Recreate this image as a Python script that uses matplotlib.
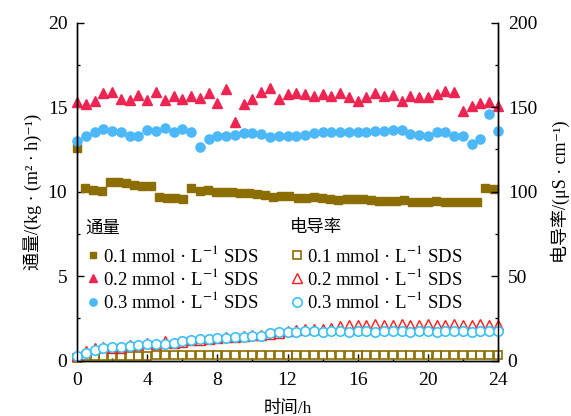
import numpy as np
import matplotlib
matplotlib.use('Agg')
import matplotlib.pyplot as plt
from matplotlib.ticker import MultipleLocator

plt.rcParams['font.family'] = ['Liberation Serif', 'Noto Sans CJK SC', 'DejaVu Serif']
plt.rcParams['mathtext.fontset'] = 'stix'

# time grids (h)
t = np.arange(0, 24.5, 0.5)
t_sq = np.linspace(0, 23.75, 52)

# flux, kg/(m2 h)
flux_01 = [12.60,
           10.20, 10.10, 10.04, 10.56, 10.56, 10.52, 10.40, 10.36, 10.36, 9.70,
           9.65, 9.60, 9.57, 10.24, 10.04, 10.10, 10.00, 9.96, 9.96, 9.90,
           9.90, 9.85, 9.80, 9.70, 9.75,
           9.76, 9.65, 9.65, 9.70, 9.65, 9.57, 9.51, 9.57, 9.57, 9.57,
           9.51, 9.45, 9.45, 9.47, 9.51, 9.41, 9.41, 9.41, 9.45, 9.41,
           9.41, 9.41, 9.41, 9.41, 10.20, 10.16]
flux_02 = [15.33, 15.20, 15.40, 15.83, 15.92, 15.49, 15.43, 15.73, 15.43, 15.89,
           15.45, 15.67, 15.49, 15.67, 15.56, 15.86, 15.27, 16.06, 14.11, 15.20,
           15.50, 15.89, 16.15, 15.49, 15.77, 15.83, 15.80, 15.67, 15.79, 15.67,
           15.86, 15.59, 15.40, 15.63, 15.83, 15.67, 15.73, 15.37, 15.67, 15.63,
           15.63, 15.79, 15.97, 15.93, 14.78, 15.10, 15.27, 15.33, 15.10]
flux_03 = [13.00, 13.32, 13.52, 13.71, 13.61, 13.52, 13.30, 13.32, 13.65, 13.61,
           13.79, 13.55, 13.71, 13.55, 12.66, 13.10, 13.27, 13.32, 13.36, 13.45,
           13.49, 13.42, 13.22, 13.27, 13.27, 13.32, 13.36, 13.45, 13.55, 13.55,
           13.52, 13.55, 13.55, 13.52, 13.61, 13.61, 13.65, 13.65, 13.39, 13.36,
           13.30, 13.55, 13.55, 13.30, 13.32, 12.82, 13.15, 14.60, 13.60]

# conductivity, uS/cm
cond_01 = [1.2, 2.6, 2.7, 2.8, 2.8, 2.8, 2.9, 2.9, 2.9, 3.0,
           3.0, 3.0, 3.0, 3.0, 3.1, 3.1, 3.1, 3.1, 3.1, 3.1,
           3.2, 3.2, 3.2, 3.2, 3.2, 3.2, 3.3, 3.3, 3.3, 3.3,
           3.3, 3.3, 3.3, 3.3, 3.3, 3.3, 3.3, 3.3, 3.3, 3.3,
           3.3, 3.3, 3.3, 3.3, 3.3, 3.3, 3.3, 3.3, 3.3]
cond_02 = [2.5, 5.6, 7.2, 8.0, 7.6, 7.5, 9.4, 9.2, 10.4, 10.0,
           11.3, 10.6, 10.8, 12.2, 12.4, 12.8, 13.4, 13.8, 14.2, 14.6,
           14.9, 15.4, 15.8, 16.0, 17.2, 18.2, 18.4, 18.6, 18.8, 19.5,
           20.3, 21.0, 21.3, 21.3, 21.4, 21.3, 21.3, 21.4, 21.3, 21.3,
           21.4, 21.3, 21.3, 21.4, 21.3, 21.3, 21.4, 21.3, 21.3]
cond_03 = [2.9, 4.3, 6.2, 7.2, 7.8, 7.8, 8.6, 9.2, 9.6, 9.8,
           9.8, 10.6, 11.6, 12.2, 12.5, 12.5, 13.1, 13.5, 13.7, 14.1,
           14.5, 14.5, 16.1, 16.7, 17.1, 17.1, 17.2, 17.2, 17.1, 17.2,
           17.2, 17.1, 17.2, 17.2, 17.1, 17.2, 17.2, 17.2, 17.1, 17.2,
           17.2, 17.1, 17.2, 17.2, 17.2, 17.1, 17.2, 17.2, 17.2]

labels = ['0.1 mmol · L$^{-1}$ SDS', '0.2 mmol · L$^{-1}$ SDS', '0.3 mmol · L$^{-1}$ SDS']
c_sq = '#8B6D00'
c_tri = '#EE2452'
c_cir = '#4DB8F7'
c_tri2 = '#FF1A1A'
c_cir2 = '#3CC0F5'

fig = plt.figure(figsize=(5.71, 4.16), dpi=100)
ax = fig.add_axes([0.1349, 0.1334, 0.7373, 0.8116])
ax2 = ax.twinx()

# flux (left axis), filled markers
p1, = ax.plot(t_sq, flux_01, 's', color=c_sq, ms=5.8, clip_on=False)
p2, = ax.plot(t, flux_02, '^', color=c_tri, ms=7.2, clip_on=False)
p3, = ax.plot(t, flux_03, 'o', color=c_cir, ms=6.6, clip_on=False)

# conductivity (right axis), hollow markers
h1, = ax2.plot(t, cond_01, 's', mfc='none', mec=c_sq, mew=1.2, ms=6.2, clip_on=False)
h2, = ax2.plot(t, cond_02, '^', mfc='none', mec=c_tri2, mew=1.0, ms=7.5, clip_on=False)
h3, = ax2.plot(t, cond_03, 'o', mfc='white', mec=c_cir2, mew=1.2, ms=6.8, clip_on=False)

ax.set_xlim(0, 24)
ax.set_ylim(0, 20)
ax2.set_ylim(0, 200)
ax.xaxis.set_major_locator(MultipleLocator(4))
ax.xaxis.set_minor_locator(MultipleLocator(2))
ax.yaxis.set_major_locator(MultipleLocator(5))
ax.yaxis.set_minor_locator(MultipleLocator(2.5))
ax2.yaxis.set_major_locator(MultipleLocator(50))
ax2.yaxis.set_minor_locator(MultipleLocator(25))

for a in (ax, ax2):
    a.spines['top'].set_visible(False)
    for s in a.spines.values():
        s.set_linewidth(1.0)
    a.tick_params(which='major', direction='in', length=4.8, width=1.0, labelsize=14)
    a.tick_params(which='minor', direction='in', length=2.4, width=1.0)
ax.tick_params(axis='y', which='both', right=False, pad=7)
ax.tick_params(axis='x', pad=8)
ax2.tick_params(axis='y', pad=7)

ax.set_xlabel('时间/h', fontsize=12.5, labelpad=9)
ax.set_ylabel('通量/(kg · (m² · h)⁻¹)', fontsize=13, labelpad=4)
ax2.set_ylabel('电导率/(μS · cm⁻¹)', fontsize=13, rotation=90, labelpad=10)

leg1 = ax2.legend([p1, p2, p3], labels, title='通量', loc='upper left',
                  bbox_to_anchor=(0.02, 0.415), frameon=False, alignment='left',
                  handlelength=0.8, handletextpad=0.15, labelspacing=0.12,
                  borderpad=0, borderaxespad=0, fontsize=13.5, title_fontsize=12.5,
                  markerscale=0.8)
leg1._legend_box.sep = 6
ax2.add_artist(leg1)
leg2 = ax2.legend([h1, h2, h3], labels, title='电导率', loc='upper left',
                  bbox_to_anchor=(0.505, 0.415), frameon=False, alignment='left',
                  handlelength=0.8, handletextpad=0.15, labelspacing=0.12,
                  borderpad=0, borderaxespad=0, fontsize=13.5, title_fontsize=12.5)
leg2._legend_box.sep = 6

fig.savefig('out.png', dpi=100)
